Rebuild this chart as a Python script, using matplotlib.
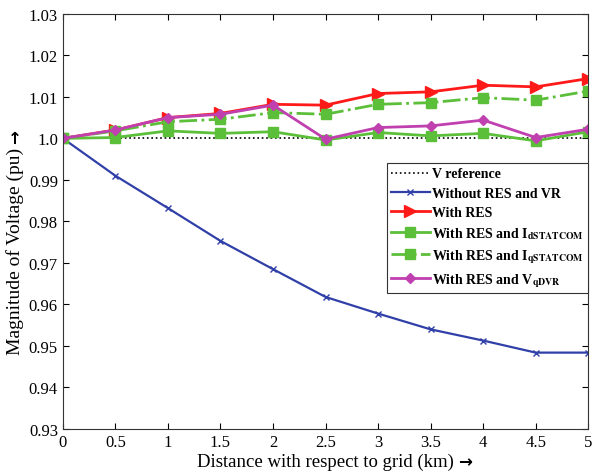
import matplotlib
matplotlib.use("Agg")
import matplotlib.pyplot as plt
import numpy as np

plt.rcParams['font.family'] = ['Liberation Serif', 'DejaVu Sans']
plt.rcParams['mathtext.fontset'] = 'stix'

distance = [0, 0.5, 1, 1.5, 2, 2.5, 3, 3.5, 4, 4.5, 5]
v_ref = [1.0] * 11
without_res = [1.0, 0.991, 0.9832, 0.9753, 0.9685, 0.9618, 0.9578, 0.954, 0.9513, 0.9484, 0.9484]
with_res = [1.0, 1.002, 1.005, 1.006, 1.0082, 1.008, 1.0108, 1.0112, 1.0128, 1.0124, 1.0144]
with_id = [1.0, 1.0002, 1.0018, 1.0012, 1.0016, 0.9996, 1.0014, 1.0006, 1.0012, 0.9994, 1.0016]
with_iq = [1.0, 1.0018, 1.004, 1.0046, 1.0062, 1.0058, 1.0082, 1.0086, 1.0098, 1.0092, 1.0114]
with_vq = [1.0, 1.002, 1.005, 1.0058, 1.008, 0.9998, 1.0026, 1.003, 1.0044, 1.0002, 1.0022]

yticks = [0.93, 0.94, 0.95, 0.96, 0.97, 0.98, 0.99, 1.0, 1.01, 1.02, 1.03]
ytick_labels = ['0.93', '0.94', '0.95', '0.96', '0.97', '0.98', '0.99', '1.0', '1.01', '1.02', '1.03']
xticks = [0, 0.5, 1, 1.5, 2, 2.5, 3, 3.5, 4, 4.5, 5]
xtick_labels = ['0', '0.5', '1', '1.5', '2', '2.5', '3', '3.5', '4', '4.5', '5']

W, H = 593, 477
fig = plt.figure(figsize=(W / 100, H / 100), dpi=100)
ax = fig.add_axes([0.106, 0.0985, 0.886, 0.8705])

green = '#5cbf3a'
ax.plot(distance, v_ref, color='black', linestyle=':', linewidth=1.2, label='V reference')
ax.plot(distance, without_res, color='#3040a8', marker='x', markersize=4, linewidth=1.6,
        label='Without RES and VR')
ax.plot(distance, with_res, color='#ff1a1a', marker='>', markersize=8, linewidth=2,
        label='With RES')
ax.plot(distance, with_id, color=green, marker='s', markersize=6.5, linewidth=2,
        label=r'With RES and I$_{\mathbf{dSTATCOM}}$')
ax.plot(distance, with_iq, color=green, marker='s', markersize=6.5, linewidth=2, linestyle='-.',
        label=r'With RES and I$_{\mathbf{qSTATCOM}}$')
ax.plot(distance, with_vq, color='#c040b0', marker='D', markersize=5.5, linewidth=2,
        label=r'With RES and V$_{\mathbf{qDVR}}$')

ax.set_xlim(0, 5)
ax.set_ylim(0.93, 1.03)
ax.set_xticks(xticks)
ax.set_xticklabels(xtick_labels)
ax.set_yticks(yticks)
ax.set_yticklabels(ytick_labels)
ax.tick_params(direction='in', top=True, right=True, labelsize=12, length=4)
for s in ax.spines.values():
    s.set_linewidth(0.8)
    s.set_color('#333333')

ax.set_xlabel('Distance with respect to grid (km)', fontsize=13.5, labelpad=2)
ax.set_ylabel('Magnitude of Voltage (pu)', fontsize=14)
ax.yaxis.set_label_coords(-0.074, 0.43)

leg = ax.legend(loc='upper right', bbox_to_anchor=(1.0, 0.64), borderaxespad=0,
                fancybox=False, edgecolor='#333333', framealpha=1, handlelength=2.8,
                handletextpad=0.2, borderpad=0.3, labelspacing=0.45,
                prop={'weight': 'bold', 'size': 10})
leg.get_frame().set_linewidth(0.8)

# arrows after the axis labels
fig.canvas.draw()
r = fig.canvas.get_renderer()
bx = ax.xaxis.label.get_window_extent(r)
fig.text((bx.x1 + 4) / W, (bx.y0 + bx.y1) / 2 / H, '\u2192', family='DejaVu Sans',
         weight='bold', fontsize=12, ha='left', va='center')
by = ax.yaxis.label.get_window_extent(r)
fig.text((by.x0 + by.x1) / 2 / W, (by.y1 + 4) / H, '\u2192', family='DejaVu Sans',
         weight='bold', fontsize=12, ha='center', va='bottom', rotation=90)

fig.savefig('out.png', dpi=100)
